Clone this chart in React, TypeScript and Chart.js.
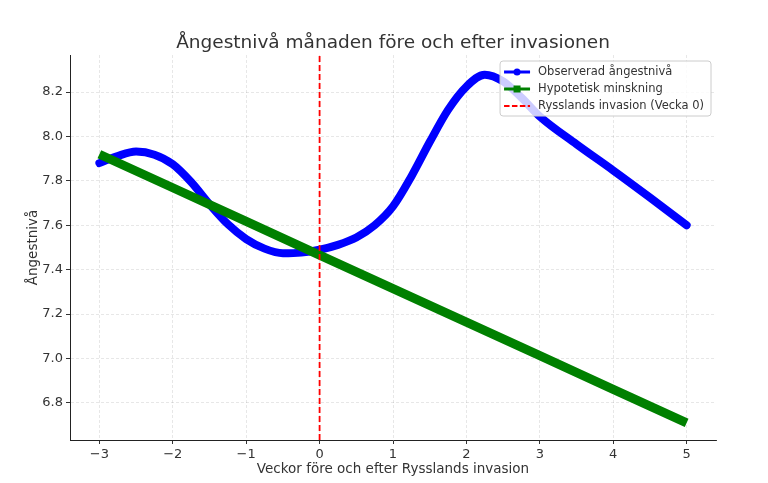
import React, { useEffect, useRef } from "react";
import { Chart, registerables } from "chart.js";

Chart.register(...registerables);

const TITLE = "Ångestnivå månaden före och efter invasionen";
const X_LABEL = "Veckor före och efter Rysslands invasion";
const Y_LABEL = "Ångestnivå";

const OBSERVED_LABEL = "Observerad ångestnivå";
const HYPO_LABEL = "Hypotetisk minskning";
const INVASION_LABEL = "Rysslands invasion (Vecka 0)";

const observedWeeks = [-3, -2.75, -2.5, -2.25, -2, -1.75, -1.5, -1.25, -1, -0.75, -0.5, -0.25, 0, 0.25, 0.5, 0.75, 1, 1.25, 1.5, 1.75, 2, 2.25, 2.5, 2.75, 3, 3.5, 4, 4.5, 5];
const observedValues = [7.88, 7.912, 7.932, 7.918, 7.875, 7.795, 7.695, 7.605, 7.538, 7.495, 7.474, 7.477, 7.49, 7.512, 7.545, 7.6, 7.685, 7.82, 7.975, 8.12, 8.225, 8.278, 8.248, 8.175, 8.09, 7.965, 7.847, 7.725, 7.6];

const hypoWeeks = [-3, -2, -1, 0, 1, 2, 3, 4, 5];
const hypoValues = [7.92, 7.769, 7.618, 7.466, 7.315, 7.164, 7.013, 6.861, 6.71];

const invasionWeek = 0;

const X_MIN = -3.4;
const X_MAX = 5.4;
const Y_MIN = 6.633;
const Y_MAX = 8.367;
const X_TICKS = [-3, -2, -1, 0, 1, 2, 3, 4, 5];
const Y_TICKS = [6.8, 7.0, 7.2, 7.4, 7.6, 7.8, 8.0, 8.2];

const FONT = '"DejaVu Sans", "Noto Sans", sans-serif';
const TEXT = "#333333";

const overlayPlugin = {
  id: "overlay",
  afterDraw(chart: any) {
    const { ctx, chartArea } = chart;
    ctx.save();
    // title
    ctx.font = `18.5px ${FONT}`;
    ctx.fillStyle = TEXT;
    ctx.textAlign = "center";
    ctx.textBaseline = "alphabetic";
    ctx.fillText(TITLE, (chartArea.left + chartArea.right) / 2, 48);

    // legend
    const ds = chart.data.datasets;
    ctx.font = `11.5px ${FONT}`;
    let maxW = 0;
    ds.forEach((d: any) => {
      maxW = Math.max(maxW, ctx.measureText(d.label).width);
    });
    const boxW = 38 + maxW + 7;
    const boxH = 55;
    const boxR = chartArea.right - 5;
    const boxL = boxR - boxW;
    const boxT = chartArea.top + 6;
    ctx.beginPath();
    ctx.roundRect(boxL, boxT, boxW, boxH, 3);
    ctx.fillStyle = "rgba(255,255,255,0.8)";
    ctx.fill();
    ctx.strokeStyle = "#cccccc";
    ctx.lineWidth = 1;
    ctx.stroke();

    ds.forEach((d: any, i: number) => {
      const cy = boxT + 11 + i * 17;
      const x0 = boxL + 4;
      const x1 = boxL + 30;
      const xm = (x0 + x1) / 2;
      ctx.save();
      ctx.strokeStyle = d.borderColor;
      ctx.fillStyle = d.borderColor;
      ctx.lineWidth = i === 2 ? 1.8 : 3;
      ctx.setLineDash(i === 2 ? [5.5, 2.4] : []);
      ctx.beginPath();
      ctx.moveTo(x0, cy);
      ctx.lineTo(x1, cy);
      ctx.stroke();
      ctx.setLineDash([]);
      if (i === 0) {
        ctx.beginPath();
        ctx.arc(xm, cy, 3.5, 0, Math.PI * 2);
        ctx.fill();
      } else if (i === 1) {
        ctx.fillRect(xm - 3.5, cy - 3.5, 7, 7);
      }
      ctx.restore();
      ctx.fillStyle = TEXT;
      ctx.textAlign = "left";
      ctx.textBaseline = "middle";
      ctx.fillText(d.label, boxL + 38, cy + 0.5);
    });
    ctx.restore();
  },
};

const gridOpts = {
  color: "rgba(0,0,0,0.12)",
  lineWidth: 0.8,
  tickColor: TEXT,
  tickLength: 4,
  tickBorderDash: [],
  tickWidth: 1,
};

const borderOpts = { display: true, color: "#222222", width: 1, dash: [3, 2] };

export default function App() {
  const ref = useRef<HTMLCanvasElement | null>(null);

  useEffect(() => {
    document.body.style.margin = "0";
    if (!ref.current) return;
    const chart = new Chart(ref.current, {
      type: "line",
      data: {
        datasets: [
          {
            label: OBSERVED_LABEL,
            data: observedWeeks.map((x, i) => ({ x, y: observedValues[i] })),
            borderColor: "#0000ff",
            backgroundColor: "#0000ff",
            borderWidth: 8,
            borderCapStyle: "round",
            borderJoinStyle: "round",
            pointRadius: 0,
            cubicInterpolationMode: "monotone",
            order: 2,
          },
          {
            label: HYPO_LABEL,
            data: hypoWeeks.map((x, i) => ({ x, y: hypoValues[i] })),
            borderColor: "#008000",
            backgroundColor: "#008000",
            borderWidth: 9,
            borderCapStyle: "butt",
            pointRadius: 0,
            tension: 0,
            order: 1,
          },
          {
            label: INVASION_LABEL,
            data: [
              { x: invasionWeek, y: Y_MIN },
              { x: invasionWeek, y: Y_MAX },
            ],
            borderColor: "#ff0000",
            backgroundColor: "#ff0000",
            borderWidth: 1.8,
            borderDash: [6, 3],
            pointRadius: 0,
            order: 0,
          },
        ],
      } as any,
      options: {
        animation: false,
        responsive: false,
        devicePixelRatio: 1,
        layout: { padding: { top: 55, right: 52, left: 0, bottom: 0 } },
        plugins: {
          legend: { display: false },
          title: { display: false },
          tooltip: { enabled: false },
        },
        scales: {
          x: {
            type: "linear",
            min: X_MIN,
            max: X_MAX,
            afterBuildTicks: (s: any) => {
              s.ticks = X_TICKS.map((value) => ({ value }));
            },
            afterFit: (s: any) => {
              s.height = 43;
            },
            ticks: {
              color: TEXT,
              font: { family: FONT, size: 13 },
              padding: 3,
              maxRotation: 0,
              callback: (v: any) => String(v).replace("-", "\u2212"),
            },
            grid: gridOpts,
            border: borderOpts,
            title: {
              display: true,
              text: X_LABEL,
              color: TEXT,
              font: { family: FONT, size: 13.5 },
              padding: { top: 0, bottom: 5 },
            },
          },
          y: {
            type: "linear",
            min: Y_MIN,
            max: Y_MAX,
            afterBuildTicks: (s: any) => {
              s.ticks = Y_TICKS.map((value) => ({ value }));
            },
            afterFit: (s: any) => {
              s.width = 70;
            },
            ticks: {
              color: TEXT,
              font: { family: FONT, size: 13 },
              padding: 3,
              callback: (v: any) => Number(v).toFixed(1),
            },
            grid: gridOpts,
            border: borderOpts,
            title: {
              display: true,
              text: Y_LABEL,
              color: TEXT,
              font: { family: FONT, size: 13.5 },
              padding: { top: 25, bottom: 0 },
            },
          },
        },
      } as any,
      plugins: [overlayPlugin],
    });
    return () => chart.destroy();
  }, []);

  return (
    <div style={{ width: 768, height: 483 }}>
      <canvas ref={ref} width={768} height={483} style={{ display: "block" }} />
    </div>
  );
}
